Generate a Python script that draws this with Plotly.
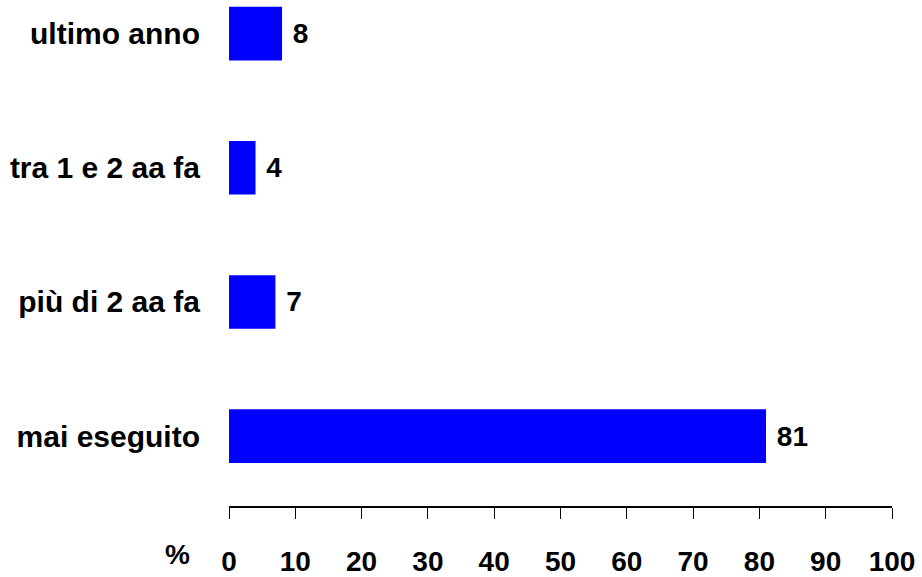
import plotly.graph_objects as go

categories = ["mai eseguito", "più di 2 aa fa", "tra 1 e 2 aa fa", "ultimo anno"]
values = [81, 7, 4, 8]
tick_vals = list(range(0, 101, 10))

font = dict(family="Liberation Sans, Arial", size=28, color="black")

fig = go.Figure(go.Bar(
    x=values, y=list(range(len(categories))), orientation="h",
    marker=dict(color="#0000ff", line=dict(width=0)), width=0.4,
    text=[f"<b>\u00a0{v}</b>" for v in values], textposition="outside",
    textfont=font, cliponaxis=False,
))
fig.update_layout(
    width=922, height=577, margin=dict(l=229, r=30, t=0, b=67),
    plot_bgcolor="white", paper_bgcolor="white", font=font,
    showlegend=False,
    xaxis=dict(range=[0, 100], tickvals=tick_vals,
               ticktext=[f"<b>{t}</b>" for t in tick_vals],
               showgrid=False, zeroline=False, showline=True,
               linecolor="black", linewidth=2, ticks="outside",
               ticklen=11, tickcolor="black", ticklabelstandoff=18),
    yaxis=dict(range=[-0.52, 3.25], tickvals=list(range(len(categories))),
               ticktext=[f"<b>{c}</b>" for c in categories],
               tickfont=dict(size=30),
               showgrid=False, zeroline=False, showline=False,
               ticks="", ticklabelstandoff=28),
    annotations=[dict(text="<b>%</b>", x=(163 - 229) / 663, y=0,
                      xref="paper", yref="paper", yanchor="middle",
                      yshift=-48, showarrow=False, font=font)],
)
fig.write_html("out.html", post_script="document.body.style.margin='0';",
               config={"displayModeBar": False})
